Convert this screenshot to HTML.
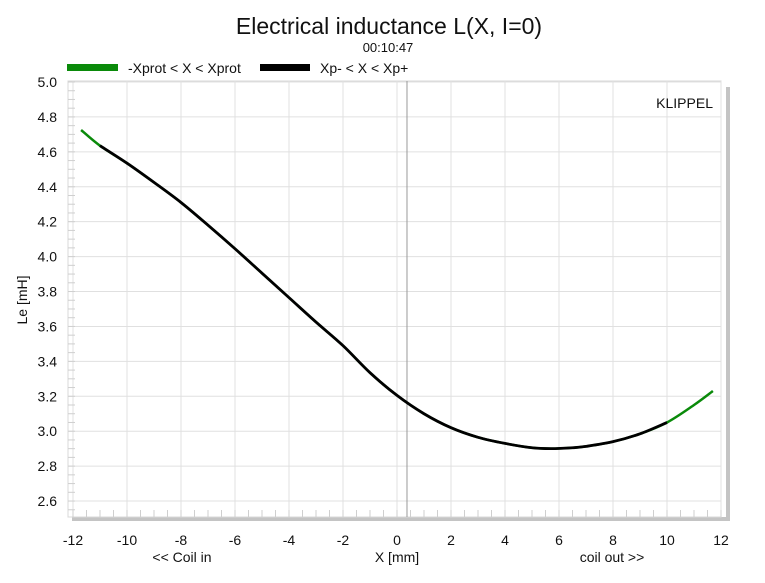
<!DOCTYPE html>
<html><head><meta charset="utf-8"><style>
body{margin:0;background:#fff;font-family:"Liberation Sans",sans-serif}
svg text{font-family:"Liberation Sans",sans-serif}
</style></head><body>
<svg width="765" height="578" viewBox="0 0 765 578">
<g id="chart"></g>
</svg>
<script>
const xs=[-11.7,-11,-10,-9,-8,-7,-6,-5,-4,-3,-2,-1,0,1,2,3,4,5,5.7,6.5,7,8,9,10,11,11.7];
const ys=[4.725,4.635,4.535,4.425,4.31,4.18,4.045,3.905,3.765,3.625,3.49,3.335,3.205,3.10,3.02,2.965,2.93,2.905,2.90,2.905,2.913,2.94,2.985,3.05,3.15,3.23];
const xTicks=[-12,-10,-8,-6,-4,-2,0,2,4,6,8,10,12];
const yTicks=[2.6,2.8,3.0,3.2,3.4,3.6,3.8,4.0,4.2,4.4,4.6,4.8,5.0];
const protMin=-11, protMax=10;
const NS='http://www.w3.org/2000/svg';
const g=document.getElementById('chart');
const L=68,R=721,T=81,B=517;
const sx=x=>397+27*x;
const sy=v=>82+(5-v)*174.6;
function el(t,a,txt){const e=document.createElementNS(NS,t);for(const k in a)e.setAttribute(k,a[k]);if(txt!==undefined)e.textContent=txt;g.appendChild(e);return e;}
let e=el('rect',{x:L+4,y:B,width:R-L+4,height:4,fill:'#c4c4c4'});


e=el('rect',{x:R+5,y:T+6,width:4,height:B-T-2,fill:'#c4c4c4'});


e=el('rect',{x:L,y:T,width:R-L,height:B-T,fill:'#fff',stroke:'#d8d8d8'});


xTicks.forEach(t=>{
  e=el('line',{x1:sx(t),x2:sx(t),y1:T,y2:B,stroke:'#e0e0e0'});
  
  
  e=el('text',{x:sx(t),y:545,'text-anchor':'middle','font-size':14,fill:'#111'},String(t));
  
  
});
for(let t=-12;t<=12;t+=0.5){
  e=el('line',{x1:sx(t),x2:sx(t),y1:B-7,y2:B,stroke:'#cfcfcf'});
  
  
}
yTicks.forEach(t=>{
  e=el('line',{x1:L,x2:R,y1:sy(t),y2:sy(t),stroke:'#e0e0e0'});
  
  
  e=el('text',{x:57,y:sy(t)+5,'text-anchor':'end','font-size':14,fill:'#111'},t.toFixed(1));
  
  
});
for(let v=2.55;v<5.0;v+=0.05){
  e=el('line',{x1:L,x2:L+7,y1:sy(v),y2:sy(v),stroke:'#cfcfcf'});
  
  
}
e=el('line',{x1:sx(0.37),x2:sx(0.37),y1:T,y2:B,stroke:'#999'});


function path(px,py){
  let d='M'+sx(px[0])+','+sy(py[0]);
  for(let i=0;i<px.length-1;i++){
    const p0=[sx(px[Math.max(i-1,0)]),sy(py[Math.max(i-1,0)])],p1=[sx(px[i]),sy(py[i])],p2=[sx(px[i+1]),sy(py[i+1])],p3=[sx(px[Math.min(i+2,px.length-1)]),sy(py[Math.min(i+2,px.length-1)])];
    d+=' C'+(p1[0]+(p2[0]-p0[0])/6)+','+(p1[1]+(p2[1]-p0[1])/6)+' '+(p2[0]-(p3[0]-p1[0])/6)+','+(p2[1]-(p3[1]-p1[1])/6)+' '+p2[0]+','+p2[1];
  }
  return d;
}
e=el('path',{d:path(xs,ys),fill:'none',stroke:'#0a8a0a','stroke-width':2.5});


const bx=[],by=[];xs.forEach((x,i)=>{if(x>=protMin&&x<=protMax){bx.push(x);by.push(ys[i]);}});
e=el('path',{d:path(bx,by),fill:'none',stroke:'#000','stroke-width':2.8});


e=el('text',{x:389,y:34,'text-anchor':'middle','font-size':23,fill:'#111'},'Electrical inductance L(X, I=0)');


e=el('text',{x:388,y:52,'text-anchor':'middle','font-size':13,fill:'#111'},'00:10:47');


e=el('rect',{x:67,y:64,width:51,height:7,fill:'#0a8a0a'});


e=el('text',{x:128,y:73,'font-size':14,fill:'#111'},'-Xprot < X < Xprot');


e=el('rect',{x:260,y:64,width:50,height:7,fill:'#000'});


e=el('text',{x:320,y:73,'font-size':14,fill:'#111'},'Xp- < X < Xp+');


e=el('text',{x:713,y:108,'text-anchor':'end','font-size':14,fill:'#111'},'KLIPPEL');


e=el('text',{x:0,y:0,'text-anchor':'middle','font-size':14,fill:'#111',transform:'translate(27,300) rotate(-90)'},'Le [mH]');


e=el('text',{x:397,y:562,'text-anchor':'middle','font-size':14,fill:'#111'},'X [mm]');


e=el('text',{x:182,y:562,'text-anchor':'middle','font-size':14,fill:'#111'},'<< Coil in');


e=el('text',{x:612,y:562,'text-anchor':'middle','font-size':14,fill:'#111'},'coil out >>');


</script>
</body></html>
